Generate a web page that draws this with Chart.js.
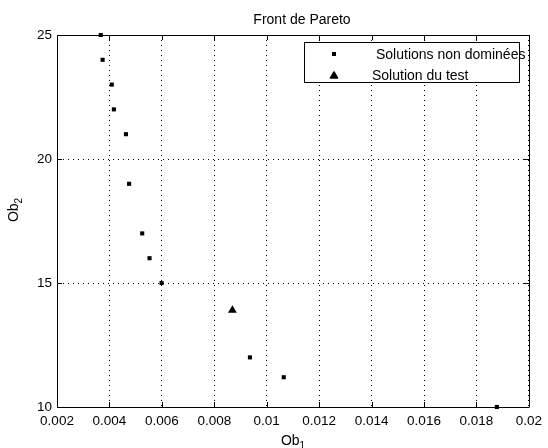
<!DOCTYPE html>
<html>
<head>
<meta charset="utf-8">
<script src="https://cdn.jsdelivr.net/npm/chart.js@4/dist/chart.umd.min.js"></script>
<style>
  body { margin: 0; background: #fff; }
  #wrap { width: 548px; height: 448px; }
</style>
</head>
<body>
<div id="wrap"><canvas id="chart" width="548" height="448"></canvas></div>
<script>
// values
const ob1NonDominated = [0.00367, 0.00374, 0.00409, 0.00417, 0.00463, 0.00475, 0.00525, 0.00553, 0.00599, 0.00936, 0.01065, 0.01878];
const ob2NonDominated = [25, 24, 23, 22, 21, 19, 17, 16, 15, 12, 11.2, 10];
const ob1Test = [0.00869];
const ob2Test = [13.9];

const xTicks = [0.002, 0.004, 0.006, 0.008, 0.01, 0.012, 0.014, 0.016, 0.018, 0.02];
const yTicks = [10, 15, 20, 25];

const labelNonDominated = 'Solutions non dominées';
const labelTest = 'Solution du test';
const chartTitle = 'Front de Pareto';

const FONT = '"Liberation Sans", Arial, Helvetica, sans-serif';

const toPoints = (xs, ys) => xs.map((x, i) => ({ x: x, y: ys[i] }));

// text with a subscript, e.g. Ob + 1
const drawSubText = (ctx, base, sub, x, y) => {
    ctx.font = '14px ' + FONT;
    const wBase = ctx.measureText(base).width;
    ctx.font = '10px ' + FONT;
    const wSub = ctx.measureText(sub).width;
    const start = x - (wBase + wSub) / 2;
    ctx.textAlign = 'left';
    ctx.textBaseline = 'alphabetic';
    ctx.font = '14px ' + FONT;
    ctx.fillText(base, start, y);
    ctx.font = '10px ' + FONT;
    ctx.fillText(sub, start + wBase, y + 4);
};

// box, inside ticks, title, axis labels and legend, matlab style
const matlabFrame = {
    id: 'matlabFrame',
    beforeDatasetsDraw(chart) {
        const ctx = chart.ctx;
        const area = chart.chartArea;
        const xs = chart.scales.x;
        const ys = chart.scales.y;
        ctx.save();
        ctx.strokeStyle = '#000';
        ctx.lineWidth = 1;

        // top and right edges
        ctx.beginPath();
        ctx.moveTo(Math.round(area.left) + 0.5, Math.round(area.top) + 0.5);
        ctx.lineTo(Math.round(area.right) + 0.5, Math.round(area.top) + 0.5);
        ctx.lineTo(Math.round(area.right) + 0.5, Math.round(area.bottom) + 0.5);
        ctx.stroke();

        // tick marks pointing inward
        const len = 5;
        ctx.beginPath();
        xTicks.forEach((v) => {
            const px = Math.round(xs.getPixelForValue(v)) + 0.5;
            ctx.moveTo(px, area.bottom);
            ctx.lineTo(px, area.bottom - len);
            ctx.moveTo(px, area.top);
            ctx.lineTo(px, area.top + len);
        });
        yTicks.forEach((v) => {
            const py = Math.round(ys.getPixelForValue(v)) + 0.5;
            ctx.moveTo(area.left, py);
            ctx.lineTo(area.left + len, py);
            ctx.moveTo(area.right, py);
            ctx.lineTo(area.right - len, py);
        });
        ctx.stroke();
        ctx.restore();
    },
    afterDraw(chart) {
        const ctx = chart.ctx;
        ctx.save();
        ctx.fillStyle = '#000';
        ctx.strokeStyle = '#000';
        ctx.lineWidth = 1;

        // title
        ctx.font = '14px ' + FONT;
        ctx.textAlign = 'center';
        ctx.textBaseline = 'middle';
        ctx.fillText(chartTitle, 302, 20);

        // axis labels
        drawSubText(ctx, 'Ob', '1', 293, 445);
        ctx.save();
        ctx.translate(18, 210);
        ctx.rotate(-Math.PI / 2);
        drawSubText(ctx, 'Ob', '2', 0, 0);
        ctx.restore();

        // legend
        ctx.fillStyle = '#fff';
        ctx.fillRect(304.5, 42.5, 215, 40);
        ctx.strokeRect(304.5, 42.5, 215, 40);
        ctx.fillStyle = '#000';
        ctx.fillRect(332, 52, 4, 4);
        ctx.beginPath();
        ctx.moveTo(334, 72);
        ctx.lineTo(337.5, 78);
        ctx.lineTo(330.5, 78);
        ctx.closePath();
        ctx.lineJoin = 'round';
        ctx.lineWidth = 1.5;
        ctx.fill();
        ctx.stroke();
        ctx.font = '14px ' + FONT;
        ctx.textAlign = 'left';
        ctx.textBaseline = 'middle';
        ctx.fillText(labelNonDominated, 376, 55);
        ctx.fillText(labelTest, 372, 76);

        ctx.restore();
    },
};

const chart = new Chart(document.getElementById('chart'), {
    type: 'scatter',
    data: {
        datasets: [
            {
                label: labelNonDominated,
                data: toPoints(ob1NonDominated, ob2NonDominated),
                pointStyle: 'rect',
                pointRadius: 2.9,
                backgroundColor: '#000',
                borderColor: '#000',
                borderWidth: 0,
                clip: false,
            },
            {
                label: labelTest,
                data: toPoints(ob1Test, ob2Test),
                pointStyle: 'triangle',
                pointRadius: 3.6,
                backgroundColor: '#000',
                borderColor: '#000',
                borderWidth: 1.5,
                clip: false,
            },
        ],
    },
    options: {
        responsive: false,
        animation: false,
        layout: {
            padding: { top: 35, right: 18, left: 0, bottom: 0 },
        },
        plugins: {
            legend: { display: false },
            tooltip: { enabled: false },
        },
        scales: {
            x: {
                type: 'linear',
                min: 0.002,
                max: 0.02,
                afterFit: (scale) => { scale.height = 41; },
                afterBuildTicks: (scale) => { scale.ticks = xTicks.map((v) => ({ value: v })); },
                ticks: {
                    padding: 6,
                    color: '#000',
                    font: { family: FONT, size: 13.5 },
                    maxRotation: 0,
                    callback: (v) => String(Number(v.toFixed(3))),
                },
                grid: {
                    color: '#000',
                    lineWidth: 1,
                    drawTicks: false,
                },
                border: { color: '#000', width: 1, dash: [1, 4] },
            },
            y: {
                type: 'linear',
                min: 10,
                max: 25,
                afterFit: (scale) => { scale.width = 57; },
                afterBuildTicks: (scale) => { scale.ticks = yTicks.map((v) => ({ value: v })); },
                ticks: {
                    padding: 5,
                    color: '#000',
                    font: { family: FONT, size: 13.5 },
                },
                grid: {
                    color: '#000',
                    lineWidth: 1,
                    drawTicks: false,
                },
                border: { color: '#000', width: 1, dash: [1, 4] },
            },
        },
    },
    plugins: [matlabFrame],
});
</script>
</body>
</html>
